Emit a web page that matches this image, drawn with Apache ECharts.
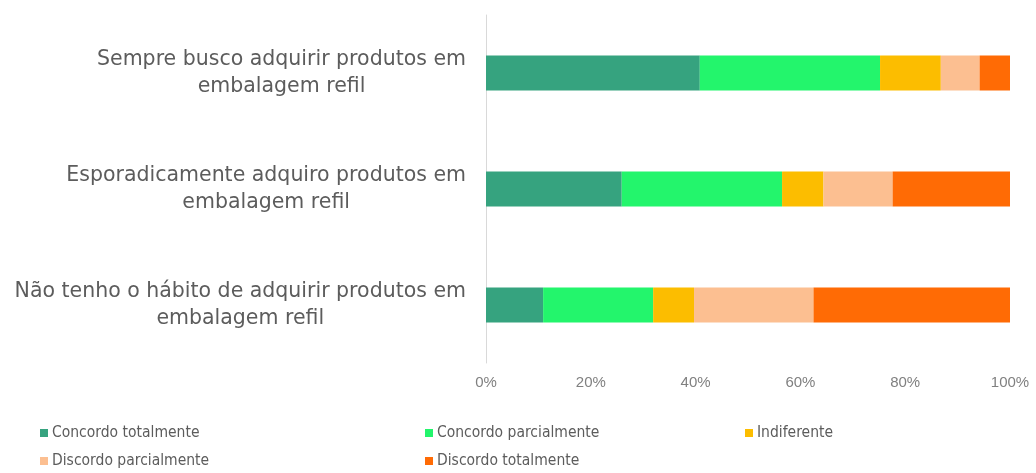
<!DOCTYPE html>
<html>
<head>
<meta charset="utf-8">
<title>Hábito de compra de produtos em embalagem refil</title>
<script src="https://cdn.jsdelivr.net/npm/echarts@6/dist/echarts.min.js"></script>
<style>
  html, body { margin: 0; padding: 0; background: #ffffff; }
  #chart { width: 1036px; height: 473px; }
</style>
</head>
<body>
<div id="chart"></div>
<script>
// Statements answered (top to bottom)
const categories = [
  'Sempre busco adquirir produtos em\nembalagem refil',
  'Esporadicamente adquiro produtos em\nembalagem refil',
  'Não tenho o hábito de adquirir produtos em\nembalagem refil'
];

// Answer scale
const seriesNames = [
  'Concordo totalmente',
  'Concordo parcialmente',
  'Indiferente',
  'Discordo parcialmente',
  'Discordo totalmente'
];

// Share of respondents (%) per statement, one array per answer
const concordoTotalmente   = [40.8, 25.9, 10.9];
const concordoParcialmente = [34.4, 30.6, 21.0];
const indiferente          = [11.6,  7.9,  7.8];
const discordoParcialmente = [ 7.4, 13.2, 22.8];
const discordoTotalmente   = [ 5.8, 22.4, 37.5];

const xTicks = [0, 20, 40, 60, 80, 100];

const seriesValues = [
  concordoTotalmente,
  concordoParcialmente,
  indiferente,
  discordoParcialmente,
  discordoTotalmente
];

const colors = ['#36a37f', '#23f56c', '#fcbd00', '#fcbf91', '#ff6b05'];
const FONT = '"Liberation Sans", Arial, sans-serif';
const WIDE_FONT = '"DejaVu Sans", Verdana, sans-serif';
const NARROW_FONT = '"DejaVu Sans Condensed", "Liberation Sans Narrow", "Arial Narrow", sans-serif';
const TEXT = '#5c5c5c';

// one legend block per item so the entries line up in columns
const legendSlots = [
  { left: 40,  top: 425 },
  { left: 425, top: 425 },
  { left: 745, top: 425 },
  { left: 40,  top: 453 },
  { left: 425, top: 453 }
];

const chart = echarts.init(document.getElementById('chart'), null, { renderer: 'canvas' });

chart.setOption({
  animation: false,
  color: colors,
  grid: { left: 486, right: 26, top: 15, bottom: 110, containLabel: false },
  legend: seriesNames.map((name, i) => ({
    data: [name],
    left: legendSlots[i].left,
    top: legendSlots[i].top,
    icon: 'rect',
    itemWidth: 8,
    itemHeight: 8,
    padding: 0,
    selectedMode: false,
    textStyle: { color: TEXT, fontSize: 15.5, fontFamily: NARROW_FONT, padding: [0, 0, 0, -1] }
  })),
  xAxis: {
    type: 'value',
    min: xTicks[0],
    max: xTicks[xTicks.length - 1],
    interval: 20,
    axisLine: { show: false },
    axisTick: { show: false },
    splitLine: { show: false },
    axisLabel: {
      color: '#808080',
      fontSize: 15,
      fontFamily: FONT,
      margin: 12,
      formatter: '{value}%'
    }
  },
  yAxis: {
    type: 'category',
    inverse: true,
    data: categories,
    axisLine: { show: true, lineStyle: { color: '#d9d9d9', width: 1 } },
    axisTick: { show: false },
    axisLabel: {
      margin: 20,
      fontFamily: WIDE_FONT,
      formatter: (v) => v.split('\n').map(l => '{c|' + l + '}').join('\n'),
      rich: {
        c: { align: 'center', color: TEXT, fontSize: 20.5, lineHeight: 27, fontFamily: WIDE_FONT }
      }
    }
  },
  series: seriesNames.map((name, i) => ({
    name: name,
    type: 'bar',
    stack: 'total',
    barWidth: 35,
    data: seriesValues[i]
  }))
});
</script>
</body>
</html>
